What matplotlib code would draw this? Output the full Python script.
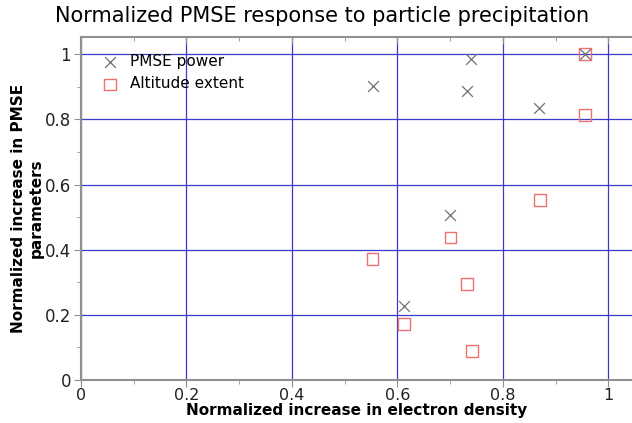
import matplotlib
matplotlib.use("Agg")
import matplotlib.pyplot as plt
from matplotlib.ticker import MultipleLocator

# electron density increase vs PMSE response (normalized)
power_x = [0.553, 0.740, 0.732, 0.869, 0.956, 0.700, 0.612]
power_y = [0.903, 0.985, 0.886, 0.835, 1.000, 0.507, 0.227]

extent_x = [0.956, 0.956, 0.870, 0.701, 0.553, 0.732, 0.613, 0.741]
extent_y = [1.000, 0.813, 0.553, 0.437, 0.371, 0.294, 0.172, 0.089]

fig = plt.figure(figsize=(6.32, 4.23), dpi=100)
ax = fig.add_axes([0.128, 0.1017, 0.873, 0.8101])

ax.scatter(extent_x, extent_y, marker='s', s=70, facecolors='none',
           edgecolors='#f07070', linewidths=1.0, label='Altitude extent', zorder=3)
ax.scatter(power_x, power_y, marker='x', s=60, color='#707070',
           linewidths=0.9, label='PMSE power', zorder=4)

ax.set_xlim(0, 1.046)
ax.set_ylim(0, 1.052)
ax.xaxis.set_minor_locator(MultipleLocator(0.1))
ax.yaxis.set_minor_locator(MultipleLocator(0.1))
ax.set_xticks([0, 0.2, 0.4, 0.6, 0.8, 1.0])
ax.set_xticklabels(['0', '0.2', '0.4', '0.6', '0.8', '1'])
ax.set_yticks([0, 0.2, 0.4, 0.6, 0.8, 1.0])
ax.set_yticklabels(['0', '0.2', '0.4', '0.6', '0.8', '1'])

ax.grid(True, which='major', color='#3a3ac8', linewidth=0.9)
ax.set_axisbelow(True)

for side in ['left', 'bottom', 'top']:
    ax.spines[side].set_color('#909090')
    ax.spines[side].set_linewidth(1.5)
ax.spines['right'].set_visible(False)

ax.tick_params(which='major', direction='out', length=5, color='#909090',
               labelsize=12, labelcolor='#222222', pad=2)
ax.tick_params(axis='x', which='major', labelsize=11.5, pad=1)
ax.tick_params(which='minor', direction='out', length=3, color='#909090')
# top/right ticks point into the plot
ax.tick_params(which='both', top=True, right=True, labeltop=False, labelright=False)
for t in ax.xaxis.get_major_ticks() + ax.xaxis.get_minor_ticks():
    t.tick2line.set_marker(3)
for t in ax.yaxis.get_major_ticks() + ax.yaxis.get_minor_ticks():
    t.tick2line.set_marker(1)

ax.set_xlabel('Normalized increase in electron density', fontsize=11,
              fontweight='bold', labelpad=0)
ax.set_ylabel('Normalized increase in PMSE\nparameters', fontsize=11,
              fontweight='bold', labelpad=1)
fig.suptitle('Normalized PMSE response to particle precipitation',
             fontsize=15, x=0.51, y=0.985)

handles, labels = ax.get_legend_handles_labels()
ax.legend(handles[::-1], labels[::-1], loc='upper left', frameon=False,
          fontsize=11, bbox_to_anchor=(0.0, 0.99), handletextpad=0.3,
          labelspacing=0.45, borderaxespad=0.5)

fig.savefig('out.png', dpi=100)
